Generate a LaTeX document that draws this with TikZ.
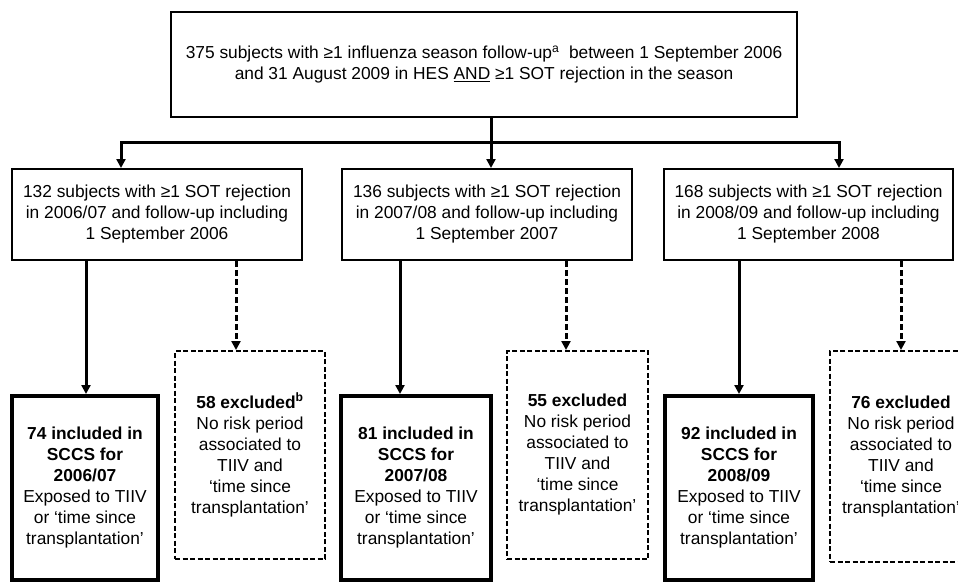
\documentclass[tikz,border=0pt]{standalone}
\usepackage{fontspec}
\setmainfont{Liberation Sans}
\usetikzlibrary{arrows.meta}
\begin{document}
\begin{tikzpicture}[x=1pt,y=-1pt,
  every node/.style={font=\fontsize{17.35}{21}\selectfont, align=center, inner sep=0pt},
  thinbox/.style={draw, line width=2pt, rectangle},
  incbox/.style={draw, line width=4pt, rectangle},
  exbox/.style={draw, line width=2pt, dash pattern=on 5pt off 2.5pt, rectangle},
  conn/.style={line width=3pt, -{Triangle[width=9pt,length=9pt]}},
  dconn/.style={conn, dash pattern=on 6pt off 3pt}]
\useasboundingbox (0,0) rectangle (958,582);
\clip (0,0) rectangle (958,582);
\fill[white] (0,0) rectangle (958,582);

\node[thinbox, minimum width=626pt, minimum height=105pt] (top) at (484,64.5)
  {375 subjects with ≥1 influenza season follow-up\textsuperscript{a}\ \ between 1 September 2006\\
   and 31 August 2009 in HES \underline{AND} ≥1 SOT rejection in the season};

\node[thinbox, minimum width=290pt, minimum height=91pt] (m1) at (157,214.5)
  {132 subjects with ≥1 SOT rejection\\in 2006/07 and follow-up including\\1 September 2006};
\node[thinbox, minimum width=290pt, minimum height=91pt] (m2) at (487,214.5)
  {136 subjects with ≥1 SOT rejection\\in 2007/08 and follow-up including\\1 September 2007};
\node[thinbox, minimum width=289pt, minimum height=91pt] (m3) at (808.5,214.5)
  {168 subjects with ≥1 SOT rejection\\in 2008/09 and follow-up including\\1 September 2008};

\node[incbox, minimum width=146pt, minimum height=184pt] (i1) at (85,488)
  {\textbf{74 included in}\\\textbf{SCCS for}\\\textbf{2006/07}\\Exposed to TIIV\\or ‘time since\\transplantation’};
\node[incbox, minimum width=150pt, minimum height=184pt] (i2) at (416,488)
  {\textbf{81 included in}\\\textbf{SCCS for}\\\textbf{2007/08}\\Exposed to TIIV\\or ‘time since\\transplantation’};
\node[incbox, minimum width=148pt, minimum height=184pt] (i3) at (739,488)
  {\textbf{92 included in}\\\textbf{SCCS for}\\\textbf{2008/09}\\Exposed to TIIV\\or ‘time since\\transplantation’};

\node[exbox, minimum width=150pt, minimum height=208pt] (e1) at (250,455)
  {\textbf{58 excluded\textsuperscript{b}}\\No risk period\\associated to\\TIIV and\\‘time since\\transplantation’};
\node[exbox, minimum width=141pt, minimum height=208pt] (e2) at (577.5,455)
  {\textbf{55 excluded}\\No risk period\\associated to\\TIIV and\\‘time since\\transplantation’};
\node[exbox, minimum width=142pt, minimum height=211pt] (e3) at (901,456.5)
  {\textbf{76 excluded}\\No risk period\\associated to\\TIIV and\\‘time since\\transplantation’};

% top distribution
\coordinate (j) at (491,142);
\coordinate (jl) at (121,142);
\coordinate (jr) at (839,142);
\draw[conn] (top.south -| j) -- (j |- m2.north);
\draw[conn] (j) -- (jl) -- (jl |- m1.north);
\draw[conn] (j) -- (jr) -- (jr |- m3.north);

% lower connectors
\coordinate (s1) at (86,0);
\coordinate (d1) at (236,0);
\coordinate (s2) at (400,0);
\coordinate (d2) at (566,0);
\coordinate (s3) at (739,0);
\coordinate (d3) at (901,0);
\draw[conn] (s1 |- m1.south) -- (s1 |- i1.north);
\draw[dconn] (d1 |- m1.south) -- (d1 |- e1.north);
\draw[conn] (s2 |- m2.south) -- (s2 |- i2.north);
\draw[dconn] (d2 |- m2.south) -- (d2 |- e2.north);
\draw[conn] (s3 |- m3.south) -- (s3 |- i3.north);
\draw[dconn] (d3 |- m3.south) -- (d3 |- e3.north);
\end{tikzpicture}
\end{document}
